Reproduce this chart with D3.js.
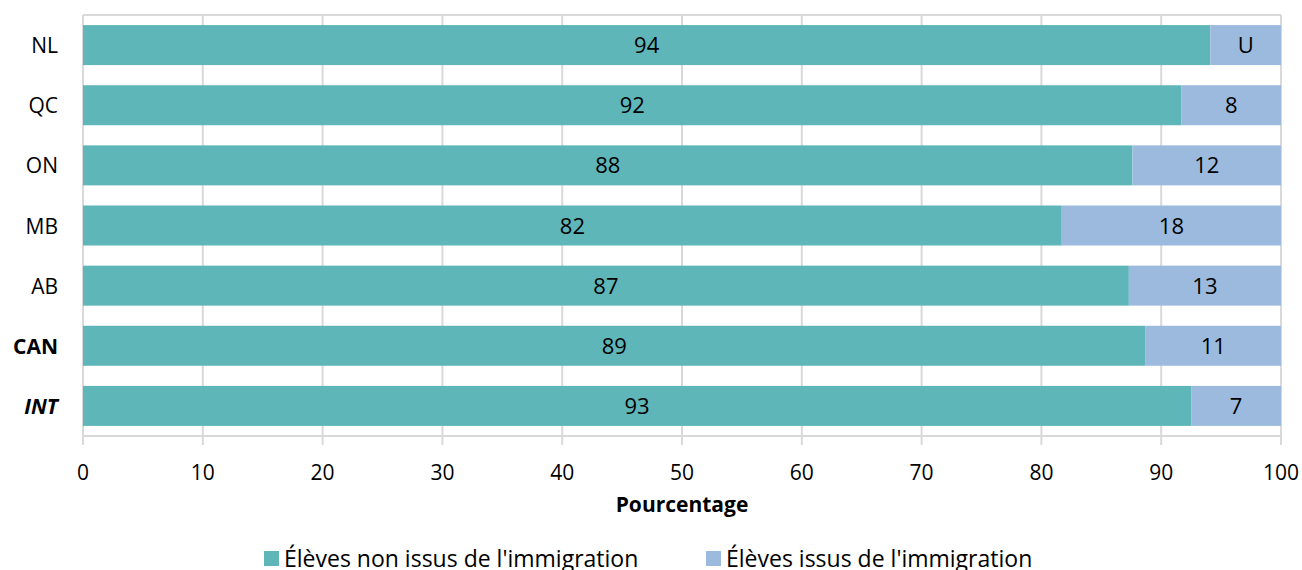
<!DOCTYPE html>
<html><head><meta charset="utf-8">
<script src="https://cdn.jsdelivr.net/npm/d3@7"></script>
<style>body{margin:0;background:#fff;} text{font-family:"Open Sans",sans-serif;fill:#000;}</style>
</head><body><svg id="c" width="1302" height="570"></svg>
<script>
const categories = ["NL","QC","ON","MB","AB","CAN","INT"];
const nonImmigrant = [94.1, 91.7, 87.6, 81.7, 87.3, 88.7, 92.5];
const immigrant = [5.9, 8.3, 12.4, 18.3, 12.7, 11.3, 7.5];
const nonImmigrantLabels = ["94","92","88","82","87","89","93"];
const immigrantLabels = ["U","8","12","18","13","11","7"];
const xTicks = [0,10,20,30,40,50,60,70,80,90,100];
const seriesNames = ["Élèves non issus de l'immigration","Élèves issus de l'immigration"];
const colors = ["#5eb6b9","#9bbadd"];

const svg = d3.select("#c");
const L=83, R=1281, T=15, B=436;
const x = d3.scaleLinear().domain([0,100]).range([L,R]);
const y = d3.scaleBand().domain(categories).range([T,B]).paddingInner(0.335).paddingOuter(0.168);

// gridlines
svg.append("g").selectAll("line").data(xTicks).join("line")
  .attr("x1",d=>x(d)).attr("x2",d=>x(d)).attr("y1",T).attr("y2",B+9)
  .attr("stroke","#d9d9d9").attr("stroke-width",2);
svg.append("line").attr("x1",L).attr("x2",R).attr("y1",T).attr("y2",T).attr("stroke","#d9d9d9").attr("stroke-width",2);
svg.append("line").attr("x1",L).attr("x2",R).attr("y1",B).attr("y2",B).attr("stroke","#d9d9d9").attr("stroke-width",2);

const rows = categories.map((c,i)=>({c,a:nonImmigrant[i],b:immigrant[i],la:nonImmigrantLabels[i],lb:immigrantLabels[i]}));
const g = svg.append("g");
g.selectAll("rect.a").data(rows).join("rect").attr("class","a")
  .attr("x",x(0)).attr("y",d=>y(d.c)).attr("width",d=>x(d.a)-x(0)).attr("height",y.bandwidth()).attr("fill",colors[0]);
g.selectAll("rect.b").data(rows).join("rect").attr("class","b")
  .attr("x",d=>x(d.a)).attr("y",d=>y(d.c)).attr("width",d=>x(d.a+d.b)-x(d.a)).attr("height",y.bandwidth()).attr("fill",colors[1]);
g.selectAll("text.a").data(rows).join("text").attr("class","a")
  .attr("x",d=>x(d.a/2)).attr("y",d=>y(d.c)+y.bandwidth()/2+8).attr("text-anchor","middle").attr("font-size",22).text(d=>d.la);
g.selectAll("text.b").data(rows).join("text").attr("class","b")
  .attr("x",d=>x(d.a+d.b/2)).attr("y",d=>y(d.c)+y.bandwidth()/2+8).attr("text-anchor","middle").attr("font-size",22).text(d=>d.lb);

// category labels
svg.append("g").selectAll("text").data(categories).join("text")
  .attr("x",58).attr("y",d=>y(d)+y.bandwidth()/2+8).attr("text-anchor","end").attr("font-size",21)
  .attr("font-weight",d=>(d==="CAN"||d==="INT")?"bold":"normal")
  .attr("font-style",d=>d==="INT"?"italic":"normal").text(d=>d);

// x tick labels
svg.append("g").selectAll("text").data(xTicks).join("text")
  .attr("x",d=>x(d)).attr("y",480).attr("text-anchor","middle").attr("font-size",21).text(d=>d);
svg.append("text").attr("x",(L+R)/2).attr("y",512).attr("text-anchor","middle").attr("font-size",21).attr("font-weight","bold").text("Pourcentage");

// legend
const leg = [{x:264},{x:706}];
leg.forEach((l,i)=>{
  svg.append("rect").attr("x",l.x).attr("y",551).attr("width",15).attr("height",15).attr("fill",colors[i]);
  svg.append("text").attr("x",l.x+20).attr("y",567).attr("font-size",23).text(seriesNames[i]);
});
</script></body></html>
